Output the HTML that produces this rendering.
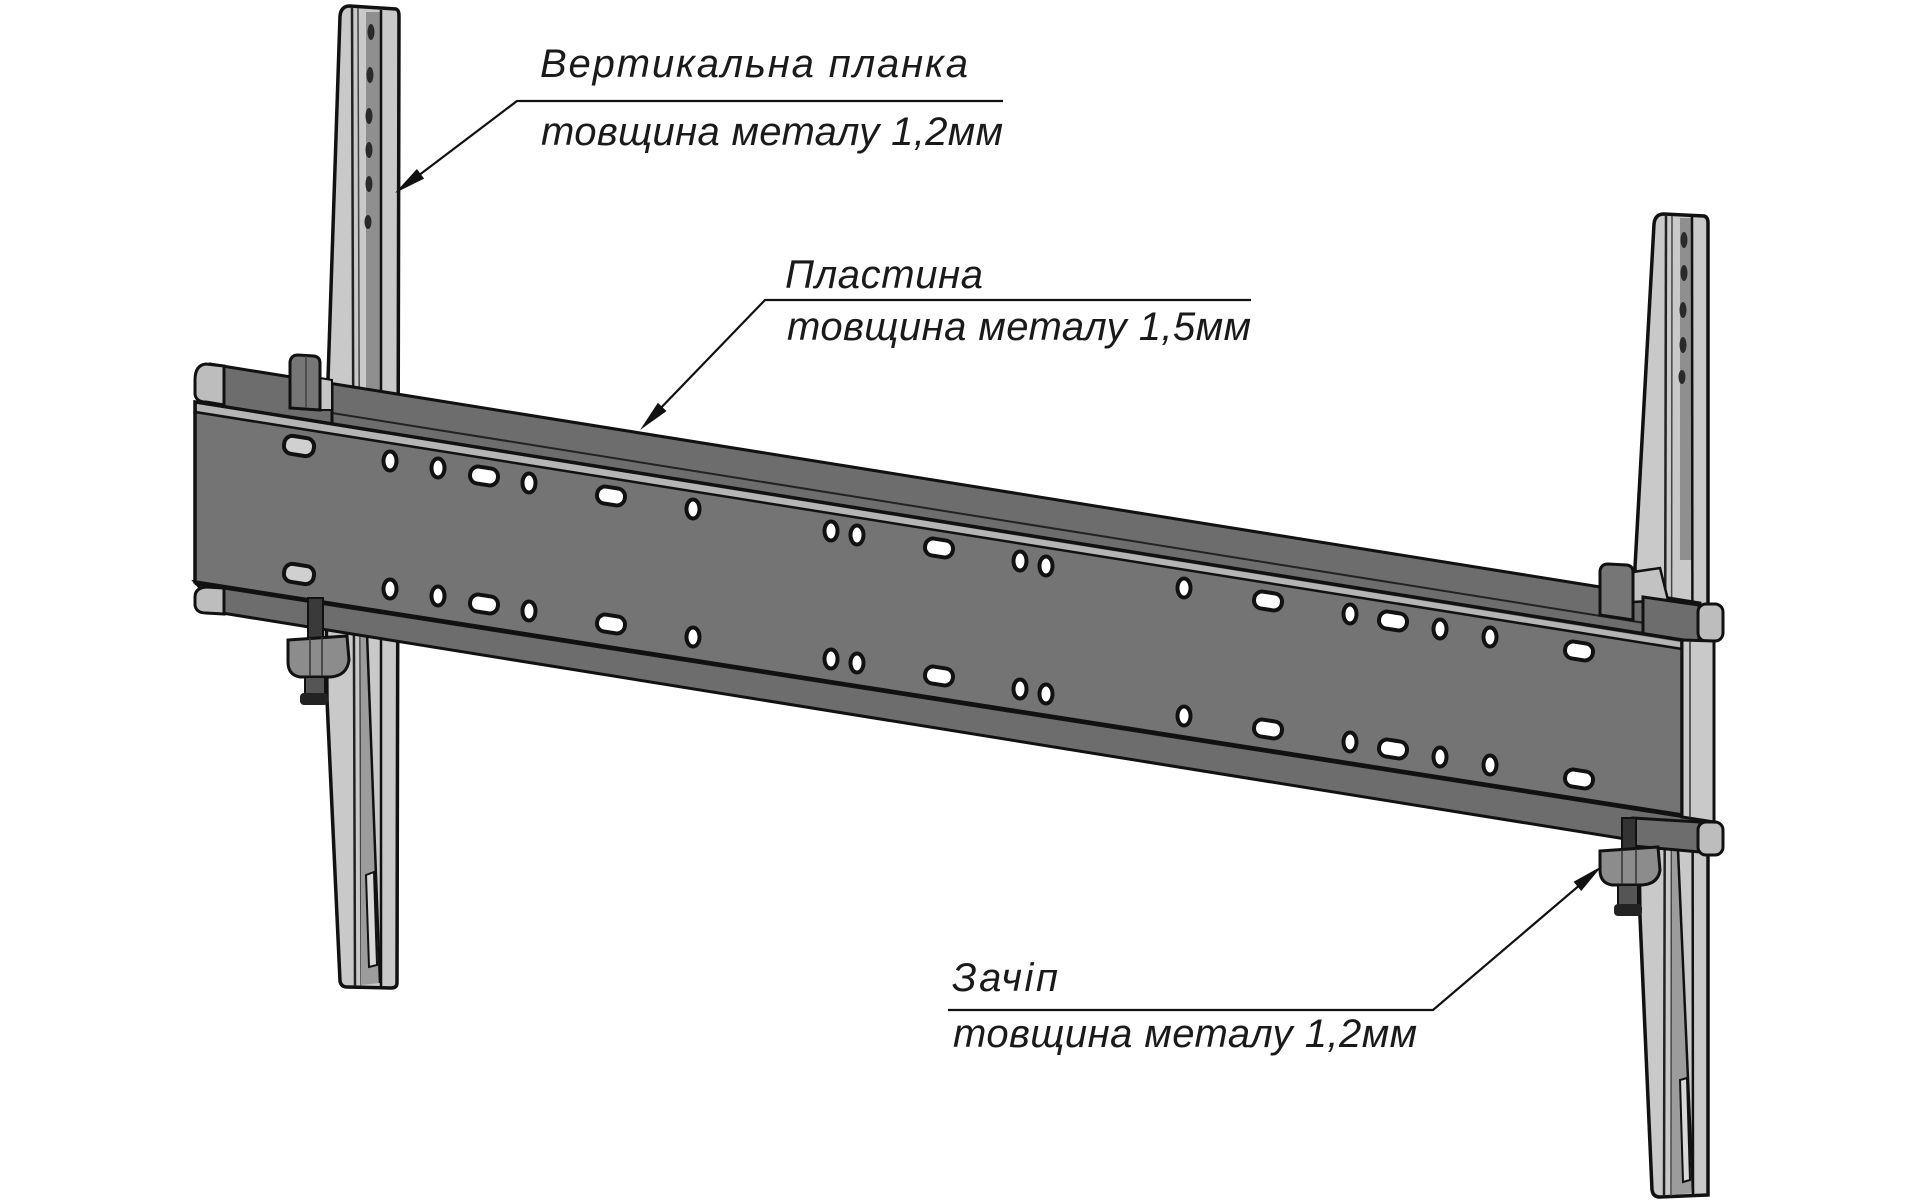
<!DOCTYPE html>
<html><head><meta charset="utf-8">
<style>
html,body{margin:0;padding:0;background:#fff;}
svg{display:block;}
text{font-family:"Liberation Sans","DejaVu Sans",sans-serif;font-style:italic;font-size:40px;fill:#1a1a1a;}
</style></head>
<body>
<svg width="1920" height="1200" viewBox="0 0 1920 1200" xmlns="http://www.w3.org/2000/svg">
<rect width="1920" height="1200" fill="#fff"/>

<!-- LEFT RAIL -->
<path d="M340,16 Q341,6 350,6 L396,9 Q399,10 399,16 L397,983 Q397,988 391,988 L347,987 Q341,987 340,981 L327,700 L325,470 Z" fill="#c9c9c9" stroke="#111" stroke-width="3.5"/>
<path d="M352,8 L355,986" stroke="#222" stroke-width="2.5"/>
<path d="M358,8 L361,986" stroke="#444" stroke-width="1.5"/>
<path d="M366,12 L381,12 L381,470 L366,470 Z" fill="#8f8f8f"/>
<path d="M381,10 L381,986" stroke="#111" stroke-width="2.5"/>
<g fill="#2a2a2a">
<ellipse cx="371" cy="32" rx="3.5" ry="8"/>
<ellipse cx="370" cy="75" rx="3.5" ry="8"/>
<ellipse cx="369" cy="116" rx="3.5" ry="8"/>
<ellipse cx="369" cy="150" rx="3.5" ry="8"/>
<ellipse cx="369" cy="184" rx="3.5" ry="8"/>
<ellipse cx="368" cy="222" rx="3.5" ry="7"/>
</g>
<path d="M361,620 L367,633 L380,983 L361,985 Z" fill="#9c9c9c"/>
<path d="M367,633 L380,983" stroke="#111" stroke-width="2.5"/>
<path d="M366,875 L374,872 L377,965 L369,967 Z" fill="#d8d8d8" stroke="#111" stroke-width="2"/>

<!-- RIGHT RAIL -->
<path d="M1654,224 Q1655,214 1664,214 L1704,216 Q1708,217 1708,223 L1708,1195 L1660,1197 Q1653,1197 1652,1190 L1640,917 L1635,567 Z" fill="#c9c9c9" stroke="#111" stroke-width="3.5"/>
<path d="M1666,216 L1664,1196" stroke="#222" stroke-width="2.5"/>
<path d="M1672,216 L1671,1196" stroke="#444" stroke-width="1.5"/>
<path d="M1680,218 L1692,218 L1692,560 L1680,560 Z" fill="#8f8f8f"/>
<path d="M1692,216 L1693,1196" stroke="#111" stroke-width="2.5"/>
<g fill="#2a2a2a">
<ellipse cx="1684" cy="240" rx="3.5" ry="8"/>
<ellipse cx="1684" cy="273" rx="3.5" ry="8"/>
<ellipse cx="1683" cy="310" rx="3.5" ry="8"/>
<ellipse cx="1683" cy="345" rx="3.5" ry="8"/>
<ellipse cx="1682" cy="377" rx="3.5" ry="7"/>
</g>
<path d="M1672,850 L1678,850 L1693,1193 L1672,1195 Z" fill="#9c9c9c"/>
<path d="M1678,850 L1693,1193" stroke="#111" stroke-width="2.5"/>
<path d="M1680,1080 L1687,1078 L1690,1180 L1683,1182 Z" fill="#d8d8d8" stroke="#111" stroke-width="2"/>

<!-- UPPER BACK BAND -->
<path d="M210,364 L1700,603 L1700,652 L195,412 Z" fill="#6d6d6d" stroke="#111" stroke-width="3"/>
<path d="M332,413 L1682,629" stroke="#222" stroke-width="2"/>
<path d="M332,383 L332,424" stroke="#111" stroke-width="3"/>
<path d="M224,366 L206,364 Q195,365 195,380 L195,394 Q196,402 206,402 L224,405 Z" fill="#bdbdbd" stroke="#111" stroke-width="3"/>
<path d="M320,378 L332,380 L332,410 L320,410 Z" fill="#c4c4c4" stroke="#111" stroke-width="2"/>
<path d="M290,362 Q291,355 298,355 L314,356 Q320,357 320,363 L320,410 L290,408 Z" fill="#767676" stroke="#111" stroke-width="3"/>
<path d="M306,356 L306,408" stroke="#444" stroke-width="1.5"/>

<!-- right blocks -->
<path d="M1633,572 L1660,568 L1668,600 L1633,602 Z" fill="#c2c2c2" stroke="#111" stroke-width="2.5"/>
<path d="M1600,571 Q1601,564 1608,564 L1627,565 Q1633,566 1633,572 L1633,620 L1600,615 Z" fill="#767676" stroke="#111" stroke-width="3"/>
<path d="M1643,597 L1699,605 L1699,646 L1643,640 Z" fill="#6d6d6d" stroke="#111" stroke-width="3"/>
<rect x="1698" y="604" width="25" height="37" rx="8" fill="#bdbdbd" stroke="#111" stroke-width="3"/>

<!-- BOTTOM BAND -->
<path d="M195,582 L1700,818 L1700,851 L222,613 Z" fill="#6d6d6d" stroke="#111" stroke-width="3"/>
<path d="M224,588 L206,587 Q195,588 195,597 L195,605 Q196,613 206,613 L224,614 Z" fill="#bdbdbd" stroke="#111" stroke-width="3"/>
<path d="M1633,818 L1700,822 L1700,852 L1633,846 Z" fill="#6d6d6d" stroke="#111" stroke-width="3"/>
<rect x="1698" y="822" width="25" height="33" rx="8" fill="#bdbdbd" stroke="#111" stroke-width="3"/>

<!-- FRONT FACE -->
<path d="M195,402 L1682,640 L1682,815 L195,582 Z" fill="#747474" stroke="#111" stroke-width="3.5"/>
<path d="M197,404 L1680,642 L1680,648 L197,411 Z" fill="#b5b5b5"/>
<path d="M195,412 L1682,649" stroke="#111" stroke-width="2.5"/>
<path d="M195,583 L1682,816" stroke="#111" stroke-width="4"/>
<path d="M1682,640 L1714,641 L1714,822 L1682,817 Z" fill="#c9c9c9" stroke="#111" stroke-width="3"/>
<path d="M1690,641 L1690,818" stroke="#333" stroke-width="1.5"/>

<!-- LEFT CLIP -->
<rect x="308" y="598" width="15" height="40" fill="#3a3a3a" stroke="#111" stroke-width="2"/>
<path d="M288,640 L347,636 L349,660 Q347,676 330,677 L300,677 Q288,675 288,662 Z" fill="#8c8c8c" stroke="#111" stroke-width="3"/>
<path d="M310,638 L310,677 M322,637 L322,677" stroke="#333" stroke-width="1.5"/>
<rect x="305" y="677" width="20" height="20" fill="#555" stroke="#111" stroke-width="2"/>
<rect x="300" y="693" width="28" height="12" rx="4" fill="#222"/>

<!-- RIGHT CLIP -->
<rect x="1622" y="818" width="14" height="32" fill="#333" stroke="#111" stroke-width="2"/>
<path d="M1600,851 L1658,847 L1660,870 Q1658,884 1642,885 L1612,885 Q1600,883 1600,870 Z" fill="#8c8c8c" stroke="#111" stroke-width="3"/>
<path d="M1622,850 L1622,885 M1636,849 L1636,885" stroke="#333" stroke-width="1.5"/>
<rect x="1618" y="885" width="20" height="22" fill="#555" stroke="#111" stroke-width="2"/>
<rect x="1614" y="904" width="28" height="12" rx="4" fill="#222"/>

<!-- HOLES -->
<g fill="#fff" stroke="#111" stroke-width="4">
<rect x="-15" y="-9" width="30" height="18" rx="8" transform="translate(299,446) rotate(9)" fill="#d0d0d0"/>
<ellipse cx="390" cy="461" rx="6.5" ry="9.5"/>
<ellipse cx="438" cy="468" rx="6.5" ry="9.5"/>
<rect x="-14" y="-8.5" width="28" height="17" rx="8" transform="translate(484,476) rotate(9)"/>
<ellipse cx="529" cy="483" rx="6.5" ry="9.5"/>
<rect x="-14" y="-8.5" width="28" height="17" rx="8" transform="translate(611,496) rotate(9)"/>
<ellipse cx="693" cy="509" rx="6.5" ry="9.5"/>
<ellipse cx="831" cy="531" rx="6.5" ry="9.5"/>
<ellipse cx="857" cy="535" rx="6.5" ry="9.5"/>
<rect x="-14" y="-8.5" width="28" height="17" rx="8" transform="translate(939,548) rotate(9)"/>
<ellipse cx="1020" cy="561" rx="6.5" ry="9.5"/>
<ellipse cx="1046" cy="566" rx="6.5" ry="9.5"/>
<ellipse cx="1184" cy="588" rx="6.5" ry="9.5"/>
<rect x="-14" y="-8.5" width="28" height="17" rx="8" transform="translate(1268,601) rotate(9)"/>
<ellipse cx="1350" cy="614" rx="6.5" ry="9.5"/>
<rect x="-14" y="-8.5" width="28" height="17" rx="8" transform="translate(1393,621) rotate(9)"/>
<ellipse cx="1440" cy="629" rx="6.5" ry="9.5"/>
<ellipse cx="1490" cy="637" rx="6.5" ry="9.5"/>
<rect x="-14" y="-8.5" width="28" height="17" rx="8" transform="translate(1579,651) rotate(9)"/>
<rect x="-15" y="-9" width="30" height="18" rx="8" transform="translate(299,574) rotate(9)" fill="#d0d0d0"/>
<ellipse cx="390" cy="589" rx="6.5" ry="9.5"/>
<ellipse cx="438" cy="596" rx="6.5" ry="9.5"/>
<rect x="-14" y="-8.5" width="28" height="17" rx="8" transform="translate(484,604) rotate(9)"/>
<ellipse cx="529" cy="611" rx="6.5" ry="9.5"/>
<rect x="-14" y="-8.5" width="28" height="17" rx="8" transform="translate(611,624) rotate(9)"/>
<ellipse cx="693" cy="637" rx="6.5" ry="9.5"/>
<ellipse cx="831" cy="659" rx="6.5" ry="9.5"/>
<ellipse cx="857" cy="663" rx="6.5" ry="9.5"/>
<rect x="-14" y="-8.5" width="28" height="17" rx="8" transform="translate(939,676) rotate(9)"/>
<ellipse cx="1020" cy="689" rx="6.5" ry="9.5"/>
<ellipse cx="1046" cy="694" rx="6.5" ry="9.5"/>
<ellipse cx="1184" cy="716" rx="6.5" ry="9.5"/>
<rect x="-14" y="-8.5" width="28" height="17" rx="8" transform="translate(1268,729) rotate(9)"/>
<ellipse cx="1350" cy="742" rx="6.5" ry="9.5"/>
<rect x="-14" y="-8.5" width="28" height="17" rx="8" transform="translate(1393,749) rotate(9)"/>
<ellipse cx="1440" cy="757" rx="6.5" ry="9.5"/>
<ellipse cx="1490" cy="765" rx="6.5" ry="9.5"/>
<rect x="-14" y="-8.5" width="28" height="17" rx="8" transform="translate(1579,779) rotate(9)"/>
</g>

<!-- LEADERS -->
<g stroke="#111" stroke-width="2.2" fill="none">
<path d="M1003,101 L517,101 L410,182"/>
<path d="M1251,300 L765,300 L655,414"/>
<path d="M948,1010 L1433,1010 L1588,878"/>
</g>
<g fill="#111">
<polygon points="395,193 424.1,178.6 416.9,169"/>
<polygon points="640,430 666.5,411.1 657.9,402.7"/>
<polygon points="1602,866 1581.2,891 1573.6,881.8"/>
</g>

<!-- TEXT -->
<text x="540" y="77" textLength="428" lengthAdjust="spacing">Вертикальна планка</text>
<text x="541" y="145" textLength="462" lengthAdjust="spacing">товщина металу 1,2мм</text>
<text x="785" y="288" textLength="198" lengthAdjust="spacing">Пластина</text>
<text x="787" y="340" textLength="464" lengthAdjust="spacing">товщина металу 1,5мм</text>
<text x="952" y="991" textLength="106" lengthAdjust="spacing">Зачіп</text>
<text x="953" y="1047" textLength="464" lengthAdjust="spacing">товщина металу 1,2мм</text>
</svg>
</body></html>
